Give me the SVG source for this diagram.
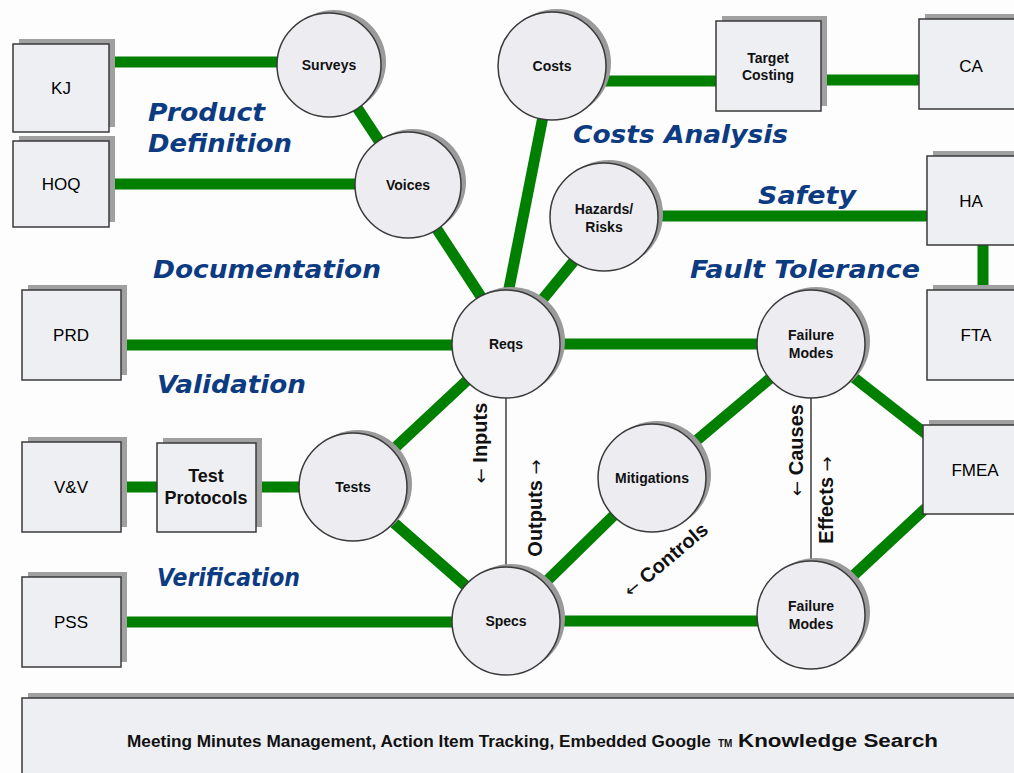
<svg xmlns="http://www.w3.org/2000/svg" width="1014" height="773" viewBox="0 0 1014 773">
<style>
.bg{fill:#fdfdfe}
.g{stroke:#007f00;stroke-width:11;fill:none}
.t{stroke:#222;stroke-width:1.3;fill:none}
.bx{fill:#eeeff3;stroke:#3a3a3a;stroke-width:1.5}
.bs{fill:#a0a0a0}
.c{fill:#ededf1;stroke:#3a3a3a;stroke-width:1.5}
.cs{fill:#9a9a9a}
.bl{font-family:"Liberation Sans",Arial,sans-serif;font-size:17px;fill:#000;text-anchor:middle}
.bb{font-family:"Liberation Sans",Arial,sans-serif;font-size:18px;font-weight:bold;fill:#111;text-anchor:middle}
.cl{font-family:"Liberation Sans",Arial,sans-serif;font-size:14px;font-weight:bold;fill:#111;text-anchor:middle}
.sec{font-family:"DejaVu Sans",Verdana,sans-serif;font-size:25px;font-weight:bold;font-style:italic;fill:#0d3b82}
.rot{font-family:"Liberation Sans",Arial,sans-serif;font-size:20px;font-weight:bold;fill:#111;text-anchor:middle}
.ar{font-family:"DejaVu Sans",sans-serif;font-weight:normal;font-size:18px}
.ft{font-family:"Liberation Sans",Arial,sans-serif;font-size:17.2px;font-weight:bold;fill:#111}
.tm{font-family:"Liberation Sans",Arial,sans-serif;font-size:10px;font-weight:bold;fill:#111}
</style>
<rect class="bg" x="0" y="0" width="1014" height="773"/>

<g id="connectors">
<line class="g" x1="109" y1="62" x2="277" y2="62"/>
<line class="g" x1="109" y1="184" x2="356" y2="184"/>
<line class="g" x1="329" y1="65" x2="408" y2="185"/>
<line class="g" x1="408" y1="185" x2="512" y2="344"/>
<line class="g" x1="553" y1="66" x2="498" y2="344"/>
<line class="g" x1="552" y1="81" x2="716" y2="81"/>
<line class="g" x1="821" y1="80" x2="919" y2="80"/>
<line class="g" x1="604" y1="216" x2="927" y2="216"/>
<line class="g" x1="610" y1="217" x2="506" y2="344"/>
<line class="g" x1="983" y1="245" x2="983" y2="290"/>
<line class="g" x1="121" y1="345" x2="506" y2="345"/>
<line class="g" x1="506" y1="344" x2="811" y2="344"/>
<line class="g" x1="506" y1="344" x2="353" y2="487"/>
<line class="g" x1="353" y1="487" x2="506" y2="621"/>
<line class="g" x1="121" y1="487" x2="157" y2="487"/>
<line class="g" x1="256" y1="487" x2="353" y2="487"/>
<line class="g" x1="121" y1="622" x2="506" y2="622"/>
<line class="g" x1="506" y1="621" x2="652" y2="478"/>
<line class="g" x1="652" y1="478" x2="811" y2="344"/>
<line class="g" x1="506" y1="621" x2="811" y2="621"/>
<line class="g" x1="811" y1="344" x2="926" y2="434"/>
<line class="g" x1="811" y1="615" x2="926" y2="508"/>
<line class="t" x1="506" y1="396" x2="506" y2="568"/>
<line class="t" x1="811" y1="396" x2="811" y2="562"/>
</g>

<g id="labels-rotated">
<text class="rot" x="487" y="443" transform="rotate(-90 487 443)"><tspan class="ar">←</tspan> Inputs</text>
<text class="rot" x="542" y="508" transform="rotate(-90 542 508)">Outputs <tspan class="ar">→</tspan></text>
<text class="rot" x="803" y="450" transform="rotate(-90 803 450)"><tspan class="ar">←</tspan> Causes</text>
<text class="rot" x="833" y="500" transform="rotate(-90 833 500)">Effects <tspan class="ar">→</tspan></text>
<text class="rot" x="670" y="565" transform="rotate(-40 670 565)"><tspan class="ar">←</tspan> Controls</text>
</g>

<g id="sections">
<text class="sec" x="148" y="121" textLength="117" lengthAdjust="spacingAndGlyphs">Product</text>
<text class="sec" x="148" y="152" textLength="144" lengthAdjust="spacingAndGlyphs">Definition</text>
<text class="sec" x="573" y="143" textLength="215" lengthAdjust="spacingAndGlyphs">Costs Analysis</text>
<text class="sec" x="758" y="204" textLength="98" lengthAdjust="spacingAndGlyphs">Safety</text>
<text class="sec" x="153" y="278" textLength="228" lengthAdjust="spacingAndGlyphs">Documentation</text>
<text class="sec" x="690" y="278" textLength="230" lengthAdjust="spacingAndGlyphs">Fault Tolerance</text>
<text class="sec" x="157" y="393" textLength="149" lengthAdjust="spacingAndGlyphs">Validation</text>
<text class="sec" x="157" y="586" textLength="143" lengthAdjust="spacingAndGlyphs">Verification</text>
</g>

<g id="node-kj"><rect class="bs" x="19" y="39" width="96" height="88"/><rect class="bx" x="13" y="44" width="96" height="88"/><text class="bl" x="61" y="94">KJ</text></g>
<g id="node-hoq"><rect class="bs" x="19" y="136" width="96" height="86"/><rect class="bx" x="13" y="141" width="96" height="86"/><text class="bl" x="61" y="190">HOQ</text></g>
<g id="node-prd"><rect class="bs" x="28" y="285" width="99" height="90"/><rect class="bx" x="22" y="290" width="99" height="90"/><text class="bl" x="71" y="341">PRD</text></g>
<g id="node-vv"><rect class="bs" x="28" y="437" width="99" height="90"/><rect class="bx" x="22" y="442" width="99" height="90"/><text class="bl" x="71" y="493">V&amp;V</text></g>
<g id="node-pss"><rect class="bs" x="28" y="572" width="99" height="90"/><rect class="bx" x="22" y="577" width="99" height="90"/><text class="bl" x="71" y="628">PSS</text></g>
<g id="node-testprotocols"><rect class="bs" x="163" y="438" width="99" height="89"/><rect class="bx" x="157" y="443" width="99" height="89"/><text class="bb" x="206" y="482">Test</text><text class="bb" x="206" y="504">Protocols</text></g>
<g id="node-targetcosting"><rect class="bs" x="722" y="16" width="105" height="90"/><rect class="bx" x="716" y="21" width="105" height="90"/><text class="cl" x="768" y="63">Target</text><text class="cl" x="768" y="80">Costing</text></g>
<g id="node-ca"><rect class="bs" x="925" y="14" width="100" height="90"/><rect class="bx" x="919" y="19" width="100" height="90"/><text class="bl" x="971" y="72">CA</text></g>
<g id="node-ha"><rect class="bs" x="933" y="151" width="100" height="89"/><rect class="bx" x="927" y="156" width="100" height="89"/><text class="bl" x="971" y="207">HA</text></g>
<g id="node-fta"><rect class="bs" x="933" y="285" width="100" height="90"/><rect class="bx" x="927" y="290" width="100" height="90"/><text class="bl" x="976" y="341">FTA</text></g>
<g id="node-fmea"><rect class="bs" x="929" y="420" width="100" height="89"/><rect class="bx" x="923" y="425" width="100" height="89"/><text class="bl" x="975" y="476">FMEA</text></g>

<g id="node-surveys"><circle class="cs" cx="334" cy="62" r="52"/><circle class="c" cx="329" cy="65" r="52"/><text class="cl" x="329" y="70">Surveys</text></g>
<g id="node-voices"><circle class="cs" cx="413" cy="182" r="53"/><circle class="c" cx="408" cy="185" r="53"/><text class="cl" x="408" y="190">Voices</text></g>
<g id="node-costs"><circle class="cs" cx="557" cy="63" r="54"/><circle class="c" cx="552" cy="66" r="54"/><text class="cl" x="552" y="71">Costs</text></g>
<g id="node-hazards"><circle class="cs" cx="609" cy="214" r="54"/><circle class="c" cx="604" cy="217" r="54"/><text class="cl" x="604" y="214">Hazards/</text><text class="cl" x="604" y="232">Risks</text></g>
<g id="node-reqs"><circle class="cs" cx="511" cy="341" r="54"/><circle class="c" cx="506" cy="344" r="54"/><text class="cl" x="506" y="349">Reqs</text></g>
<g id="node-fm-top"><circle class="cs" cx="816" cy="341" r="54"/><circle class="c" cx="811" cy="344" r="54"/><text class="cl" x="811" y="340">Failure</text><text class="cl" x="811" y="358">Modes</text></g>
<g id="node-tests"><circle class="cs" cx="358" cy="484" r="54"/><circle class="c" cx="353" cy="487" r="54"/><text class="cl" x="353" y="492">Tests</text></g>
<g id="node-mitigations"><circle class="cs" cx="657" cy="475" r="54"/><circle class="c" cx="652" cy="478" r="54"/><text class="cl" x="652" y="483">Mitigations</text></g>
<g id="node-specs"><circle class="cs" cx="511" cy="618" r="54"/><circle class="c" cx="506" cy="621" r="54"/><text class="cl" x="506" y="626">Specs</text></g>
<g id="node-fm-bottom"><circle class="cs" cx="816" cy="612" r="54"/><circle class="c" cx="811" cy="615" r="54"/><text class="cl" x="811" y="611">Failure</text><text class="cl" x="811" y="629">Modes</text></g>

<g id="footer">
<rect class="bs" x="28" y="693" width="1000" height="90"/>
<rect class="bx" x="22" y="698" width="1000" height="90"/>
<text class="ft" x="127" y="747">Meeting Minutes Management, Action Item Tracking, Embedded Google</text>
<text class="tm" x="718" y="747">TM</text>
<text class="ft" x="738" y="747" style="font-size:18px" textLength="200" lengthAdjust="spacingAndGlyphs">Knowledge Search</text>
</g>
</svg>
